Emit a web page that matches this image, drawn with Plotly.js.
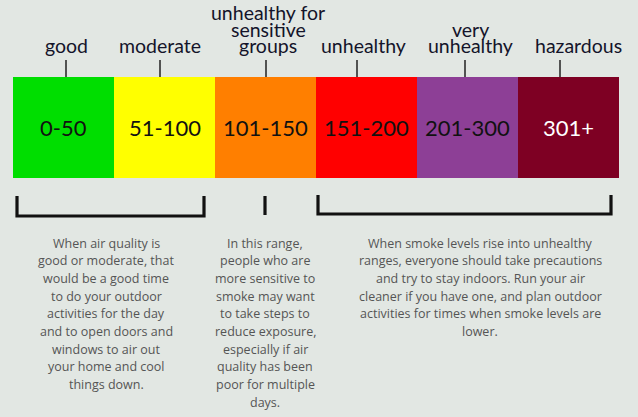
<!DOCTYPE html>
<html><head><meta charset="utf-8">
<script src="https://cdn.plot.ly/plotly-3.0.1.min.js"></script>
<style>html,body{margin:0;padding:0;background:#e2e7e3;}#chart{width:638px;height:417px;}</style>
</head><body><div id="chart"></div>
<script>
// ---- data ----
const categories = ["good", "moderate", "unhealthy for sensitive groups", "unhealthy", "very unhealthy", "hazardous"];
const ranges = ["0-50", "51-100", "101-150", "151-200", "201-300", "301+"];
const labelLines = [["good"], ["moderate"], ["unhealthy for", "sensitive", "groups"], ["unhealthy"], ["very", "unhealthy"], ["hazardous"]];
const colors = ["#00de00", "#ffff00", "#ff7f00", "#ff0000", "#8d3f96", "#7e0023"];
const rangeTextColors = ["#111111", "#111111", "#111111", "#111111", "#111111", "#ffffff"];
const advice = [
  ["When air quality is", "good or moderate, that", "would be a good time", "to do your outdoor", "activities for the day", "and to open doors and", "windows to air out", "your home and cool", "things down."],
  ["In this range,", "people who are", "more sensitive to", "smoke may want", "to take steps to", "reduce exposure,", "especially if air", "quality has been", "poor for multiple", "days."],
  ["When smoke levels rise into unhealthy", "ranges, everyone should take precautions", "and try to stay indoors. Run your air", "cleaner if you have one, and plan outdoor", "activities for times when smoke levels are", "lower."]
];
const barHeight = categories.map(() => 1);

// ---- layout helpers (pixel -> paper) ----
const W = 638, H = 417;
const px = x => x / W;
const py = y => 1 - y / H;
const boxW = 101, left0 = 13, boxTop = 77, boxBot = 178;

const labelCenters = [66, 160, 268, 363, 470, 578];
const tickX = [66, 160, 266, 357, 465, 560];
const adviceCenters = [106, 265, 480];

const annotations = [];
const shapes = [];
const font = "Lato, 'Noto Sans', sans-serif";

labelLines.forEach((lines, i) => {
  const n = lines.length;
  lines.forEach((t, j) => {
    annotations.push({text: t, xref: 'paper', yref: 'paper', x: px(labelCenters[i]), y: py(46 - (n - 1 - j) * 17),
      xanchor: 'center', yanchor: 'middle', showarrow: false, font: {family: font, size: 19.5, color: '#14142a'}});
  });
  shapes.push({type: 'line', xref: 'paper', yref: 'paper', x0: px(tickX[i]), x1: px(tickX[i]), y0: py(60), y1: py(boxTop),
    line: {color: '#222', width: 1.5}});
});

ranges.forEach((r, i) => {
  annotations.push({text: r, xref: 'x', yref: 'paper', x: i, y: py(128), xanchor: 'center', yanchor: 'middle',
    showarrow: false, font: {family: font, size: 22, color: rangeTextColors[i]}});
});

advice.forEach((lines, k) => {
  lines.forEach((t, j) => {
    annotations.push({text: t, xref: 'paper', yref: 'paper', x: px(adviceCenters[k]), y: py(243 + j * 17.7),
      xanchor: 'center', yanchor: 'middle', showarrow: false, font: {family: "'Open Sans', sans-serif", size: 12.5, color: '#555555'}});
  });
});

// brackets
const bl = {color: '#111', width: 3.2};
shapes.push({type: 'path', xref: 'paper', yref: 'paper',
  path: `M ${px(17)} ${py(196)} L ${px(17)} ${py(216)} L ${px(204)} ${py(216)} L ${px(204)} ${py(196)}`, line: bl});
shapes.push({type: 'line', xref: 'paper', yref: 'paper', x0: px(265), x1: px(265), y0: py(196), y1: py(215), line: bl});
shapes.push({type: 'path', xref: 'paper', yref: 'paper',
  path: `M ${px(318)} ${py(195)} L ${px(318)} ${py(214)} L ${px(611)} ${py(214)} L ${px(611)} ${py(195)}`, line: bl});

const xr0 = -0.5 - left0 / boxW;
const xr1 = xr0 + W / boxW;
const yr1 = boxBot / (boxBot - boxTop);           // top of page in data units
const yr0 = yr1 - H / (boxBot - boxTop);

const trace = {
  type: 'bar', x: categories.map((c, i) => i), y: barHeight, width: 1,
  marker: {color: colors, line: {width: 0}}, hoverinfo: 'skip', text: categories, textposition: 'none'
};

const layout = {
  width: W, height: H, margin: {l: 0, r: 0, t: 0, b: 0},
  paper_bgcolor: '#e2e7e3', plot_bgcolor: 'rgba(0,0,0,0)',
  xaxis: {range: [xr0, xr1], visible: false, fixedrange: true},
  yaxis: {range: [yr0, yr1], visible: false, fixedrange: true},
  showlegend: false, bargap: 0,
  annotations, shapes
};
Plotly.newPlot('chart', [trace], layout, {displayModeBar: false, staticPlot: true});
</script></body></html>
